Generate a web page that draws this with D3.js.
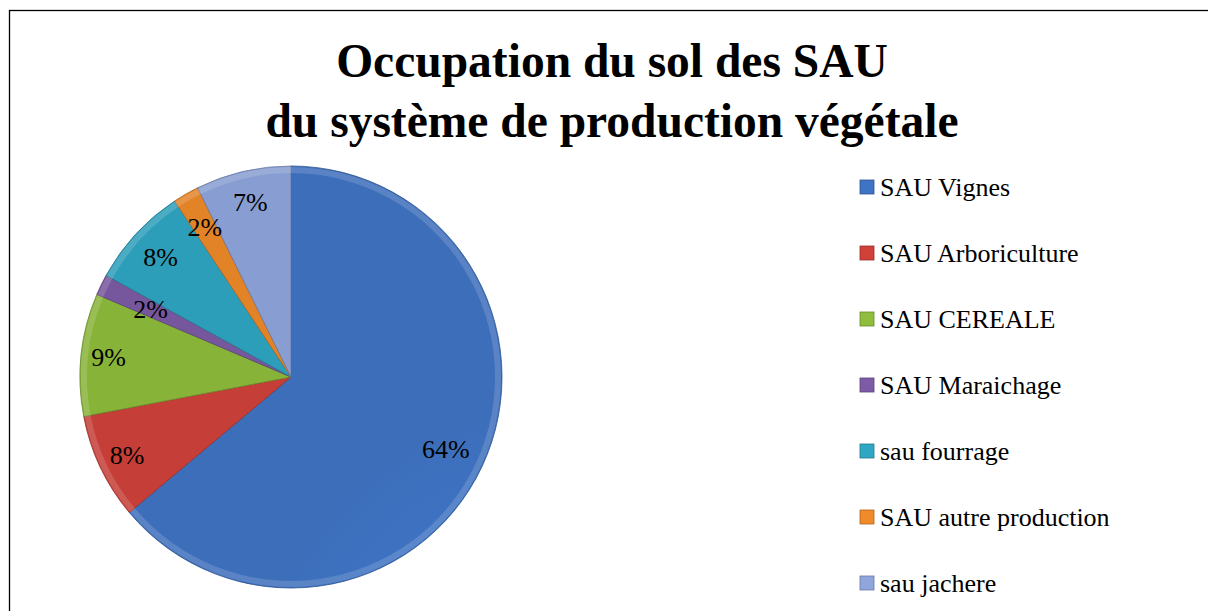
<!DOCTYPE html>
<html>
<head>
<meta charset="utf-8">
<script src="https://cdn.jsdelivr.net/npm/d3@7"></script>
<style>
  body { margin: 0; background: #fff; }
  svg { display: block; }
</style>
</head>
<body>
<script>
// categories and shares (percent)
var categories = ["SAU Vignes", "SAU Arboriculture", "SAU CEREALE", "SAU Maraichage",
                  "sau fourrage", "SAU autre production", "sau jachere"];
var shares = [63.9, 8.1, 9.4, 1.6, 7.7, 2.0, 7.3];
var colors = ["#3f74c4", "#d0413a", "#8fbd3c", "#7d5ba6", "#2fa7c4", "#f08a2a", "#8fa6dc"];
var titleLines = ["Occupation du sol des SAU", "du système de production végétale"];
// where each percent label sits, as a fraction of the radius
var labelRadius = [0.81, 0.86, 0.87, 0.74, 0.84, 0.82, 0.85];

var width = 1208, height = 611;
var cx = 291, cy = 377, radius = 211;
var serif = "'Liberation Serif', 'Times New Roman', serif";

var svg = d3.select("body").append("svg")
   .attr("width", width)
   .attr("height", height);

svg.append("rect")
   .attr("width", "100%").attr("height", "100%")
   .style("fill", "white");

// chart frame (runs off right and bottom)
svg.append("rect")
   .attr("x", 9.5).attr("y", 10.5)
   .attr("width", 1240).attr("height", 640)
   .style("fill", "none")
   .style("stroke", "#000")
   .style("stroke-width", 1.3);

// title
svg.append("g").selectAll("text")
   .data(titleLines)
   .enter().append("text")
   .attr("x", 612)
   .attr("y", function (d, i) { return 77 + i * 60; })
   .attr("text-anchor", "middle")
   .style("font-family", serif)
   .style("font-weight", "bold")
   .style("font-size", "47.5px")
   .text(function (d) { return d; });

var defs = svg.append("defs");
colors.forEach(function (c, i) {
   var g = defs.append("radialGradient")
      .attr("id", "grad" + i)
      .attr("gradientUnits", "userSpaceOnUse")
      .attr("cx", cx - 40).attr("cy", cy - 60)
      .attr("r", radius * 1.35);
   g.append("stop").attr("offset", "0%").attr("stop-color", d3.color(c).brighter(0.3));
   g.append("stop").attr("offset", "60%").attr("stop-color", c);
   g.append("stop").attr("offset", "100%").attr("stop-color", d3.color(c).darker(0.15));
});

var pie = d3.pie().sort(null).value(function (d) { return d; });
var arcs = pie(shares);
var arc = d3.arc().innerRadius(0).outerRadius(radius);

var chart = svg.append("g").attr("transform", "translate(" + cx + "," + cy + ")");

chart.selectAll("path.slice")
   .data(arcs)
   .enter().append("path")
   .attr("class", "slice")
   .attr("d", arc)
   .style("fill", function (d, i) { return "url(#grad" + i + ")"; })
   .style("stroke", function (d, i) { return d3.color(colors[i]).darker(0.9); })
   .style("stroke-width", 0.8);

// inner bevel highlight
var bevel = d3.arc().innerRadius(radius - 7).outerRadius(radius - 1);
chart.selectAll("path.bevel")
   .data(arcs)
   .enter().append("path")
   .attr("class", "bevel")
   .attr("d", bevel)
   .style("fill", "white")
   .style("opacity", 0.15);

// percent labels
chart.selectAll("text.pct")
   .data(arcs)
   .enter().append("text")
   .attr("class", "pct")
   .attr("x", function (d, i) {
      var a = (d.startAngle + d.endAngle) / 2;
      return Math.sin(a) * radius * labelRadius[i];
   })
   .attr("y", function (d, i) {
      var a = (d.startAngle + d.endAngle) / 2;
      return -Math.cos(a) * radius * labelRadius[i] + 9;
   })
   .attr("text-anchor", "middle")
   .style("font-family", serif)
   .style("font-size", "26px")
   .text(function (d, i) { return Math.round(shares[i]) + "%"; });

// legend
var legendY = d3.scaleBand()
   .domain(categories)
   .range([156, 618]);

var legend = svg.append("g").selectAll("g")
   .data(categories)
   .enter().append("g")
   .attr("transform", function (d) {
      return "translate(860," + (legendY(d) + legendY.bandwidth() / 2) + ")";
   });

legend.append("rect")
   .attr("x", 0).attr("y", -9)
   .attr("width", 14).attr("height", 14)
   .style("fill", function (d, i) { return colors[i]; })
   .style("stroke", function (d, i) { return d3.color(colors[i]).darker(0.9); })
   .style("stroke-width", 0.8);

legend.append("text")
   .attr("x", 20)
   .attr("y", 7)
   .style("font-family", serif)
   .style("font-size", "26px")
   .text(function (d) { return d; });
</script>
</body>
</html>
